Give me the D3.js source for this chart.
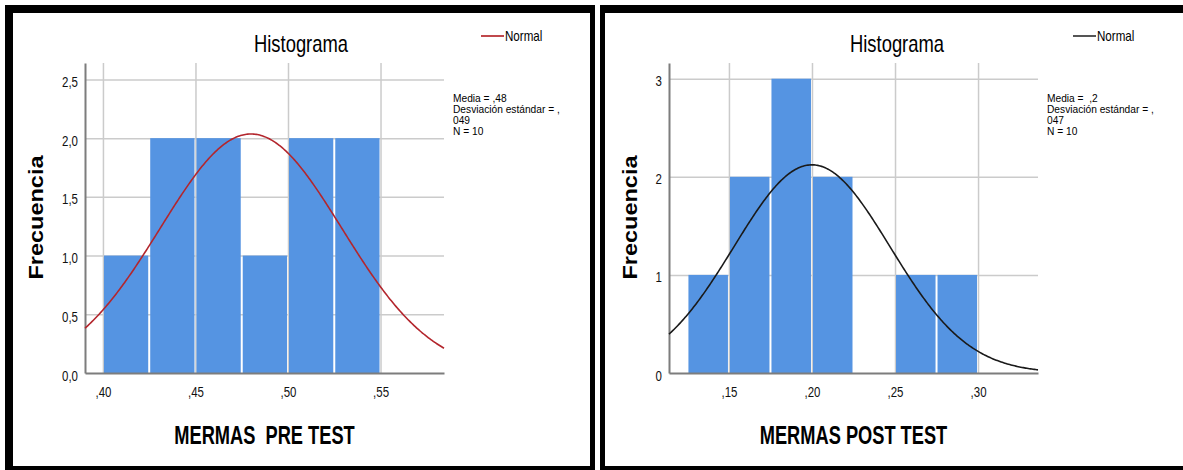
<!DOCTYPE html>
<html>
<head>
<meta charset="utf-8">
<script src="https://cdn.jsdelivr.net/npm/d3@7"></script>
<style>
  html, body { margin: 0; padding: 0; background: #fff; }
  svg { display: block; font-family: "Liberation Sans", Arial, sans-serif; }
</style>
</head>
<body>
<svg id="chart" width="1183" height="470"></svg>
<script>
// ---------------- DATA ----------------
const leftEdges  = [0.400, 0.425, 0.450, 0.475, 0.500, 0.525, 0.550];
const leftCounts = [1, 2, 2, 1, 2, 2];
const leftMean = 0.48, leftSD = 0.049, leftN = 10;
const leftXDomain = [0.3903, 0.5843];
const leftYDomain = [0, 2.64];
const leftXTicks = [0.40, 0.45, 0.50, 0.55];
const leftXLabels = [",40", ",45", ",50", ",55"];
const leftYTicks = [0, 0.5, 1.0, 1.5, 2.0, 2.5];
const leftYLabels = ["0,0", "0,5", "1,0", "1,5", "2,0", "2,5"];
const leftStatsText = ["Media = ,48", "Desviación estándar = ,", "049", "N = 10"];
const leftXTitle = "MERMAS  PRE TEST";

const rightEdges  = [0.125, 0.150, 0.175, 0.200, 0.225, 0.250, 0.275, 0.300];
const rightCounts = [1, 2, 3, 2, 0, 1, 1];
const rightMean = 0.2, rightSD = 0.047, rightN = 10;
const rightXDomain = [0.1139, 0.3361];
const rightYDomain = [0, 3.16];
const rightXTicks = [0.15, 0.20, 0.25, 0.30];
const rightXLabels = [",15", ",20", ",25", ",30"];
const rightYTicks = [0, 1, 2, 3];
const rightYLabels = ["0", "1", "2", "3"];
const rightStatsText = ["Media =  ,2", "Desviación estándar = ,", "047", "N = 10"];
const rightXTitle = "MERMAS POST TEST";

const chartTitle = "Histograma";
const yTitle = "Frecuencia";
const legendLabel = "Normal";

// ---------------- DRAW ----------------
const svg = d3.select("#chart");
const gridColor = "#cbcbcb";
const axisColor = "#7d7d7d";
const barColor = "#5594e2";

// frames
svg.append("rect").attr("x", 5).attr("y", 5).attr("width", 590).attr("height", 465).attr("fill", "#000");
svg.append("rect").attr("x", 13).attr("y", 13).attr("width", 577).attr("height", 453).attr("fill", "#fff");
svg.append("rect").attr("x", 600).attr("y", 5).attr("width", 583).attr("height", 465).attr("fill", "#000");
svg.append("rect").attr("x", 605).attr("y", 13).attr("width", 578).attr("height", 453).attr("fill", "#fff");

function txt(sel, x, y, s, size, sx, anchor, weight, fill) {
  return sel.append("text")
    .attr("transform", `translate(${x},${y}) scale(${sx},1)`)
    .attr("text-anchor", anchor)
    .style("font-size", size + "px")
    .style("font-weight", weight || "normal")
    .style("white-space", "pre")
    .attr("xml:space", "preserve")
    .attr("fill", fill || "#000")
    .text(s);
}

function panel(d, L) {
  const g = svg.append("g");
  const x = d3.scaleLinear().domain(d.xDomain).range([L.left, L.right]);
  const y = d3.scaleLinear().domain(d.yDomain).range([L.bottom, L.top]);

  // grid
  g.append("g").attr("transform", `translate(0,${L.bottom})`)
    .call(d3.axisBottom(x).tickValues(d.xTicks).tickSize(-(L.bottom - L.top)).tickFormat(""))
    .call(s => s.select(".domain").remove())
    .selectAll("line").attr("stroke", gridColor).attr("stroke-width", 1.5);
  g.append("g").attr("transform", `translate(${L.left},0)`)
    .call(d3.axisLeft(y).tickValues(d.yTicks.filter(v => v > 0)).tickSize(-(L.right - L.left)).tickFormat(""))
    .call(s => s.select(".domain").remove())
    .selectAll("line").attr("stroke", gridColor).attr("stroke-width", 1.5);

  // bars
  const bins = d.counts.map((c, i) => ({ x0: d.edges[i], x1: d.edges[i + 1], c }));
  g.append("g").selectAll("rect").data(bins.filter(b => b.c > 0)).join("rect")
    .attr("x", b => x(b.x0) + 1)
    .attr("width", b => x(b.x1) - x(b.x0) - 2)
    .attr("y", b => y(b.c))
    .attr("height", b => y(0) - y(b.c))
    .attr("fill", barColor);

  // axes
  const ya = g.append("g").attr("transform", `translate(${L.left},0)`)
    .call(d3.axisLeft(y).tickValues(d.yTicks).tickFormat((v, i) => d.yLabels[i]).tickSize(0).tickSizeOuter(0).tickPadding(0));
  ya.select(".domain").attr("stroke", axisColor).attr("stroke-width", 2);
  ya.selectAll("text").attr("x", null).attr("dy", null)
    .attr("transform", "translate(-7,7) scale(0.82,1)")
    .style("font-size", "14px").style("font-family", "'Liberation Sans', Arial, sans-serif").attr("fill", "#111");

  const xa = g.append("g").attr("transform", `translate(0,${L.bottom})`)
    .call(d3.axisBottom(x).tickValues(d.xTicks).tickFormat((v, i) => d.xLabels[i]).tickSize(0).tickSizeOuter(0).tickPadding(0));
  xa.select(".domain").attr("stroke", axisColor).attr("stroke-width", 2);
  xa.selectAll("text").attr("y", null).attr("dy", null)
    .attr("transform", "translate(0,24) scale(0.82,1)")
    .style("font-size", "14px").style("font-family", "'Liberation Sans', Arial, sans-serif").attr("fill", "#111");

  // normal curve
  const w = d.edges[1] - d.edges[0];
  const pts = d3.range(0, 301).map(k => {
    const xv = d.xDomain[0] + (d.xDomain[1] - d.xDomain[0]) * k / 300;
    const z = (xv - d.mean) / d.sd;
    return [xv, d.n * w * Math.exp(-0.5 * z * z) / (d.sd * Math.sqrt(2 * Math.PI))];
  });
  g.append("path").datum(pts)
    .attr("d", d3.line().x(p => x(p[0])).y(p => y(p[1])))
    .attr("fill", "none").attr("stroke", L.curveColor).attr("stroke-width", 1.6);

  // titles
  txt(g, L.titleX, 52, chartTitle, 23, 0.8, "middle");
  txt(g, (L.left + L.right) / 2, 443.5, d.xTitle, 25, 0.73, "middle", "bold");
  g.append("text")
    .attr("transform", `translate(${L.yTitleX},217.5) scale(0.85,1) rotate(-90)`)
    .attr("text-anchor", "middle").attr("dy", "0.35em")
    .style("font-size", "23.5px").style("font-weight", "bold")
    .text(yTitle);

  // legend
  g.append("line").attr("x1", L.legX).attr("x2", L.legX + 23).attr("y1", 36).attr("y2", 36)
    .attr("stroke", L.legColor).attr("stroke-width", 2);
  txt(g, L.legX + 24, 40.5, legendLabel, 14.5, 0.8, "start");

  // stats
  const base = [101.5, 112.8, 124.1, 135.4];
  d.stats.forEach((s, i) => txt(g, L.statsX, base[i], s, 10, 1.02, "start"));
}

panel(
  { edges: leftEdges, counts: leftCounts, mean: leftMean, sd: leftSD, n: leftN,
    xDomain: leftXDomain, yDomain: leftYDomain, xTicks: leftXTicks, xLabels: leftXLabels,
    yTicks: leftYTicks, yLabels: leftYLabels, stats: leftStatsText, xTitle: leftXTitle },
  { left: 85, right: 444, top: 63, bottom: 373, titleX: 301, yTitleX: 36,
    legX: 481, legColor: "#c0484c", statsX: 453, curveColor: "#b3262d" }
);
panel(
  { edges: rightEdges, counts: rightCounts, mean: rightMean, sd: rightSD, n: rightN,
    xDomain: rightXDomain, yDomain: rightYDomain, xTicks: rightXTicks, xLabels: rightXLabels,
    yTicks: rightYTicks, yLabels: rightYLabels, stats: rightStatsText, xTitle: rightXTitle },
  { left: 669, right: 1038, top: 63, bottom: 373, titleX: 897, yTitleX: 630,
    legX: 1073, legColor: "#555", statsX: 1047, curveColor: "#1a1a1a" }
);
</script>
</body>
</html>
